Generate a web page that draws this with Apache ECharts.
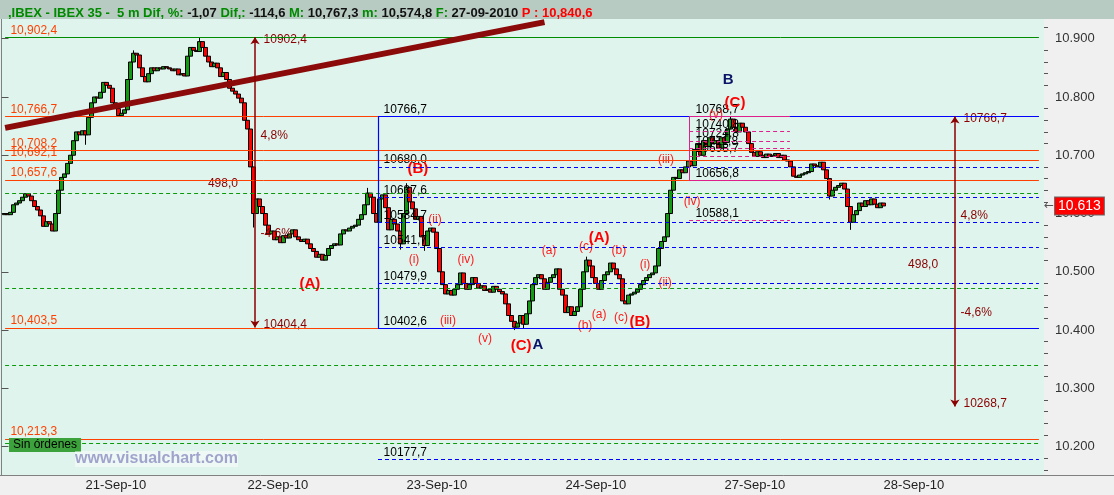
<!DOCTYPE html>
<html>
<head>
<meta charset="utf-8">
<title>IBEX 35 - 5 m</title>
<script src="https://cdn.jsdelivr.net/npm/echarts@6/dist/echarts.min.js"></script>
<style>
  html, body { margin: 0; padding: 0; background: #f0f0f0; }
  #chart { width: 1114px; height: 495px; }
</style>
</head>
<body>
<div id="chart"></div>
<script>
// time slots of the category axis (one candle each)
const SLOTS = 348
const dayLabels = ['21-Sep-10', '22-Sep-10', '23-Sep-10', '24-Sep-10', '27-Sep-10', '28-Sep-10']
const daySlots = [28, 82, 135, 188, 241, 294]

// closes, one per slot starting at firstSlot
const firstSlot = 1
const firstOpen = 10598
const closes = [
  10600, 10598, 10602, 10615, 10618, 10622, 10628, 10634, 10630, 10622, 10612, 10606,
  10596, 10578, 10586, 10582, 10570, 10600, 10640, 10662, 10668, 10686, 10700, 10725,
  10740, 10735, 10742, 10735, 10765, 10790, 10800, 10798, 10808, 10825, 10820, 10815,
  10790, 10780, 10768, 10772, 10778, 10830, 10860, 10875, 10872, 10850, 10835, 10826,
  10840, 10850, 10845, 10850, 10848, 10852, 10850, 10848, 10845, 10848, 10838, 10840,
  10836, 10870, 10885, 10880, 10878, 10895, 10885, 10870, 10860, 10852, 10858, 10850,
  10835, 10842, 10830, 10815, 10810, 10805, 10798, 10790, 10760, 10745, 10680, 10600,
  10625, 10612, 10600, 10580, 10565, 10570, 10555, 10560, 10550, 10562, 10558, 10565,
  10572, 10560, 10555, 10552, 10556, 10548, 10540, 10535, 10525, 10530, 10520, 10528,
  10540, 10545, 10548, 10546, 10565, 10572, 10570, 10575, 10578, 10580, 10590, 10598,
  10615, 10635, 10628, 10600, 10585, 10625, 10632, 10610, 10572, 10590, 10582, 10570,
  10548, 10600, 10645, 10620, 10608, 10590, 10595, 10560, 10545, 10570, 10575, 10568,
  10540, 10500, 10478, 10462, 10468, 10460, 10470, 10478, 10498, 10480, 10470, 10478,
  10490, 10480, 10472, 10476, 10468, 10470, 10465, 10475, 10470, 10466, 10462, 10445,
  10425, 10415, 10405, 10412, 10425, 10410, 10428, 10450, 10478, 10490, 10495, 10488,
  10470, 10482, 10490, 10495, 10505, 10470, 10460, 10430, 10440, 10425, 10432, 10440,
  10470, 10500, 10520, 10510, 10490, 10480, 10470, 10485, 10495, 10500, 10515, 10505,
  10495, 10488, 10450, 10445, 10460, 10462, 10465, 10470, 10478, 10485, 10490, 10495,
  10498, 10510, 10540, 10552, 10560, 10600, 10640, 10662, 10660, 10675, 10670, 10680,
  10690, 10682, 10710, 10720, 10700, 10725, 10715, 10730, 10720, 10725, 10712, 10730,
  10722, 10745, 10762, 10748, 10740, 10755, 10748, 10740, 10720, 10705, 10698, 10706,
  10700, 10696, 10702, 10698, 10700, 10703, 10696, 10700, 10692, 10690, 10680, 10664,
  10662, 10666, 10668, 10670, 10672, 10685, 10682, 10680, 10688, 10675, 10660, 10630,
  10640, 10645, 10648, 10652, 10642, 10612, 10585, 10598, 10605, 10618, 10612, 10622,
  10615, 10625, 10616, 10610, 10618, 10613
]
// visible shadows beyond the bodies: [slot, price]
const wickLows = [[28, 10718], [84, 10576], [133, 10538], [141, 10536], [171, 10400], [174, 10402], [276, 10624], [283, 10572]]
const wickHighs = [[44, 10880], [66, 10902], [122, 10644], [135, 10652], [195, 10526], [243, 10767]]
const lastPrice = 10613

// horizontal levels
const greenSolidLevels = [10902.4]
const orangeLevels = [10766.7, 10708.2, 10692.1, 10657.6, 10403.5, 10213.3]
const orangeLabels = ['10,902,4', '10,766,7', '10,708,2', '10,692,1', '10,657,6', '10,403,5', '10,213,3']
const greenDashedLevels = [10634.8, 10471.9, 10339.1, 10206.0]
const fibTop = 10766.7
const fibBottom = 10402.6
const fibLevels = [10680.0, 10627.6, 10584.7, 10541.7, 10479.9, 10177.7]
const fibLabels = ['10766,7', '10680,0', '10637,6', '10584,7', '10541,7', '10479,9', '10402,6', '10177,7']
const pinkTop = 10766.7
const pinkBottom = 10656.8
const pinkLevels = [10740.8, 10724.8, 10711.8, 10698.7, 10588.1]
const pinkLabels = ['10768,7', '10740,8', '10724,8', '10711,8', '10698,7', '10656,8', '10588,1']
const trendLine = [[1.2, 10747], [181, 10928.5]]

// measuring tools: [slot, from, to]
const rulerLeft = [84.5, 10404.4, 10902.4]
const rulerRight = [317.8, 10268.7, 10766.7]
// ruler texts: [slot, price, text, anchor]
const rulerTexts = [
  [87.2, 10898, '10902,4', 'l'], [86.2, 10733, '4,8%', 'l'], [73.8, 10651, '498,0', 'c'],
  [86.2, 10565, '-4,6%', 'l'], [87.2, 10409, '10404,4', 'l'],
  [320.5, 10762, '10766,7', 'l'], [319.5, 10596, '4,8%', 'l'], [307.2, 10513, '498,0', 'c'],
  [319.5, 10429, '-4,6%', 'l'], [320.5, 10273, '10268,7', 'l']
]

// wave counts: [slot, price, text, kind]
const waveTexts = [
  [102.8, 10479, '(A)', 'big'], [138.8, 10676, '(B)', 'big'], [144.5, 10589, '(ii)', 'small'],
  [137.5, 10520, '(i)', 'small'], [154.8, 10520, '(iv)', 'small'], [148.8, 10416, '(iii)', 'small'],
  [161.2, 10385, '(v)', 'small'], [173.2, 10373, '(C)', 'big'], [178.8, 10374, 'A', 'navy'],
  [182.5, 10536, '(a)', 'small'], [194.8, 10543, '(c)', 'small'], [199.2, 10559, '(A)', 'big'],
  [205.8, 10536, '(b)', 'small'], [214.5, 10512, '(i)', 'small'], [221.2, 10481, '(ii)', 'small'],
  [194.5, 10407, '(b)', 'small'], [199.2, 10426, '(a)', 'small'], [206.5, 10421, '(c)', 'small'],
  [212.8, 10414, '(B)', 'big'], [221.5, 10692, '(iii)', 'small'], [230.2, 10621, '(iv)', 'small'],
  [238.2, 10769, '(v)', 'small'], [244.5, 10790, '(C)', 'big'], [242.2, 10829, 'B', 'navy']
]

const priceTicks = [10200, 10300, 10400, 10500, 10600, 10700, 10800, 10900]
const minorTicks = []
for (let v = 10160; v <= 10920; v += 20) if (v % 100) minorTicks.push(v)

const FONT = 'Liberation Sans'
const ORANGE = '#ff4000'
const GREEN = '#008c00'
const BLUE = '#0000ff'
const PINK = '#e0208a'
const MAROON = '#8b0000'
const X0 = 1.2
const X1 = 345.8
const FIBX = 125.5
const PINKX0 = 229.2
const PINKX1 = 262.8

/** candles */
const candles = closes.map((c, k) => {
  const slot = firstSlot + k
  const o = k ? closes[k - 1] : firstOpen
  let lo = Math.min(o, c)
  let hi = Math.max(o, c)
  wickLows.forEach(w => { if (w[0] === slot) lo = Math.min(lo, w[1]) })
  wickHighs.forEach(w => { if (w[0] === slot) hi = Math.max(hi, w[1]) })
  return [slot, o, c, lo, hi]
})

const categories = Array.from({ length: SLOTS }, (_, i) => {
  const d = daySlots.indexOf(i)
  return d >= 0 ? dayLabels[d] : String(i)
})

/** line helpers */
function hLine (v, x0, x1, color, type, width) {
  return [{ coord: [x0, v], lineStyle: { color: color, type: type, width: width || 1, opacity: 1 } }, { coord: [x1, v] }]
}
function vLine (x, v0, v1, color, width) {
  return [{ coord: [x, v0], lineStyle: { color: color, type: 'solid', width: width || 1, opacity: 1 } }, { coord: [x, v1] }]
}

const levelLines = []
greenSolidLevels.forEach(v => levelLines.push(hLine(v, X0, X1, GREEN, 'solid')))
orangeLevels.forEach(v => levelLines.push(hLine(v, X0, X1, ORANGE, 'solid')))
greenDashedLevels.forEach(v => levelLines.push(hLine(v, X0, X1, '#0a9a0a', [4, 3])))
levelLines.push(hLine(fibTop, FIBX, X1, BLUE, 'solid', 1.2))
levelLines.push(hLine(fibBottom, FIBX, X1, BLUE, 'solid', 1.2))
fibLevels.forEach(v => levelLines.push(hLine(v, FIBX, X1, BLUE, [4, 3])))
levelLines.push(vLine(FIBX, fibBottom, fibTop, BLUE, 1.2))
levelLines.push(hLine(pinkTop, PINKX0, PINKX1, PINK, 'solid'))
levelLines.push(hLine(pinkBottom, PINKX0, PINKX1, PINK, 'solid'))
pinkLevels.forEach(v => levelLines.push(hLine(v, PINKX0, PINKX1, PINK, [4, 3])))
levelLines.push(vLine(PINKX0, pinkBottom, pinkTop, PINK))

const toolLines = [
  [{ coord: trendLine[0], lineStyle: { color: '#8b0a0a', width: 6, type: 'solid', opacity: 1 } }, { coord: trendLine[1] }]
]
;[rulerLeft, rulerRight].forEach(r => {
  toolLines.push([
    { coord: [r[0], r[1]], symbol: 'arrow', symbolSize: 7, lineStyle: { color: MAROON, width: 1.5, type: 'solid', opacity: 1 } },
    { coord: [r[0], r[2]], symbol: 'arrow', symbolSize: 7 }
  ])
})

/** text annotations */
function textItem (x, y, text, style, anchor) {
  return {
    value: [x, y],
    label: Object.assign({
      show: true,
      formatter: text,
      position: anchor === 'l' ? 'right' : 'inside',
      distance: 0,
      opacity: 1,
      textBorderWidth: 0,
      fontFamily: FONT
    }, style)
  }
}
const texts = []
const levelStyle = { color: ORANGE, fontSize: 12 }
const allOrange = greenSolidLevels.concat(orangeLevels)
allOrange.forEach((v, k) => texts.push(textItem(2.8, v + 12, orangeLabels[k], levelStyle, 'l')))
const fibAll = [fibTop].concat(fibLevels.slice(0, 5), [fibBottom], fibLevels.slice(5))
fibAll.forEach((v, k) => texts.push(textItem(127.2, v + 12, fibLabels[k], { color: '#000', fontSize: 12 }, 'l')))
const pinkAll = [pinkTop].concat(pinkLevels.slice(0, 4), [pinkBottom], pinkLevels.slice(4))
pinkAll.forEach((v, k) => texts.push(textItem(231.2, v + 12, pinkLabels[k], { color: '#000', fontSize: 12 }, 'l')))
rulerTexts.forEach(t => texts.push(textItem(t[0], t[1], t[2], { color: MAROON, fontSize: 12 }, t[3])))
const waveStyles = {
  big: { color: '#ff0000', fontSize: 15, fontWeight: 'bold' },
  small: { color: '#ff1a1a', fontSize: 12 },
  navy: { color: '#0a1466', fontSize: 15, fontWeight: 'bold' }
}
waveTexts.forEach(t => texts.push(textItem(t[0], t[1], t[2], waveStyles[t[3]], 'c')))

const chart = echarts.init(document.getElementById('chart'))
const option = {
  animation: false,
  backgroundColor: '#f0f0f0',
  title: {
    left: 3,
    top: 2,
    z: 101,
    text: '{g|,IBEX - IBEX 35 -  5 m Dif, %:} {k|-1,07} {g|Dif,:} {k|-114,6} {g|M:} {k|10,767,3} {g|m:} {k|10,574,8} {g|F:} {k|27-09-2010} {r|P : 10,840,6}',
    textStyle: {
      fontSize: 13,
      fontFamily: FONT,
      rich: {
        g: { color: '#008a00', fontSize: 13, fontFamily: FONT },
        k: { color: '#111', fontSize: 13, fontFamily: FONT },
        r: { color: '#ff0000', fontSize: 13, fontFamily: FONT }
      }
    }
  },
  graphic: [
    { type: 'rect', shape: { x: 0, y: 0, width: 1114, height: 19 }, style: { fill: '#b8cbc3' }, z: 100 },
    { type: 'line', shape: { x1: 1044, y1: 475.5, x2: 1114, y2: 475.5 }, style: { stroke: '#808080' }, z: 0 },
    {
      type: 'text', left: 9, top: 438, z: 10,
      style: { text: 'Sin órdenes', fill: '#000', font: '12px "Liberation Sans"', backgroundColor: '#3ca33c', padding: [1, 4, 1, 4] }
    },
    {
      type: 'text', left: 75, top: 451, z: 10,
      style: { text: 'www.visualchart.com', fill: '#a0a4cc', font: 'bold 16px "Liberation Sans"', backgroundColor: 'rgba(255,255,255,0.45)' }
    }
  ],
  grid: {
    left: 0,
    right: 70,
    top: 19,
    bottom: 20,
    show: true,
    backgroundColor: '#e0f4ee',
    borderWidth: 0
  },
  xAxis: [
    {
      type: 'category',
      data: categories,
      boundaryGap: true,
      axisLine: { lineStyle: { color: '#808080' } },
      axisTick: { interval: (i) => daySlots.includes(i), length: 7, lineStyle: { color: '#444' } },
      axisLabel: {
        interval: (i) => daySlots.includes(i),
        align: 'left',
        margin: 4,
        color: '#222',
        fontSize: 13,
        fontFamily: FONT
      },
      splitLine: { show: false }
    },
    { type: 'value', min: -0.5, max: SLOTS - 0.5, show: false }
  ],
  yAxis: [
    {
      type: 'value',
      position: 'right',
      min: 10151.3,
      max: 10933.8,
      axisLine: { show: true, lineStyle: { color: '#808080' } },
      axisTick: { show: true, customValues: priceTicks, length: 7, lineStyle: { color: '#555' } },
      axisLabel: {
        customValues: priceTicks,
        formatter: (v) => (v / 1000).toFixed(3),
        margin: 11,
        color: '#333',
        fontSize: 13,
        fontFamily: FONT
      },
      splitLine: { show: false }
    },
    {
      type: 'value',
      position: 'right',
      min: 10151.3,
      max: 10933.8,
      axisLine: { show: false },
      axisTick: { show: true, customValues: minorTicks, length: 4, lineStyle: { color: '#555' } },
      axisLabel: { show: false },
      splitLine: { show: false }
    }
  ],
  series: [
    {
      name: 'levels',
      type: 'scatter',
      xAxisIndex: 1,
      yAxisIndex: 0,
      z: 1,
      silent: true,
      data: [],
      markLine: {
        silent: true,
        symbol: 'none',
        label: { show: false },
        data: levelLines
      }
    },
    {
      name: 'IBEX 35',
      type: 'candlestick',
      xAxisIndex: 0,
      yAxisIndex: 0,
      z: 2,
      barWidth: 4,
      encode: { x: 0, y: [1, 2, 3, 4] },
      data: candles,
      itemStyle: {
        color: '#129a12',
        color0: '#ff0000',
        borderColor: '#000',
        borderColor0: '#000',
        borderWidth: 1
      }
    },
    {
      name: 'tools',
      type: 'scatter',
      xAxisIndex: 1,
      yAxisIndex: 0,
      z: 3,
      silent: true,
      data: [],
      markLine: {
        silent: true,
        symbol: 'none',
        label: { show: false },
        data: toolLines
      }
    },
    {
      name: 'last',
      type: 'scatter',
      xAxisIndex: 1,
      yAxisIndex: 0,
      z: 5,
      silent: true,
      data: [],
      markLine: {
        silent: true,
        symbol: 'none',
        lineStyle: { color: 'rgba(0,0,0,0)', width: 1 },
        data: [[{ coord: [X1, lastPrice] }, { coord: [SLOTS - 0.5, lastPrice] }]],
        label: {
          show: true,
          position: 'end',
          distance: 0,
          formatter: '{a|←}{b|10.613}',
          rich: {
            a: { color: '#555', fontSize: 12, fontFamily: 'DejaVu Sans', padding: [0, 1, 0, 0] },
            b: {
              color: '#fff',
              fontSize: 14,
              fontFamily: FONT,
              backgroundColor: '#ff0000',
              borderColor: '#666',
              borderWidth: 1,
              padding: [2, 3, 1, 3]
            }
          }
        }
      }
    },
    {
      name: 'texts',
      type: 'scatter',
      xAxisIndex: 1,
      yAxisIndex: 0,
      z: 4,
      silent: true,
      symbolSize: 1,
      itemStyle: { color: 'rgba(0,0,0,0)' },
      data: texts
    }
  ]
}
chart.setOption(option)
</script>
</body>
</html>
